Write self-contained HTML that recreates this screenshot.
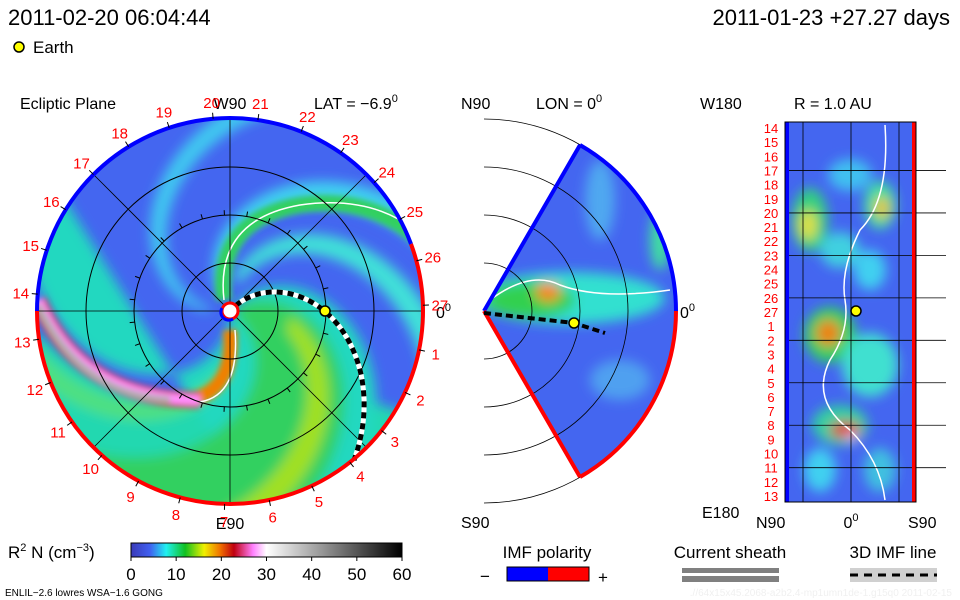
<!DOCTYPE html>
<html><head><meta charset="utf-8">
<style>
html,body{margin:0;padding:0;background:#fff;}
svg{display:block;font-family:"Liberation Sans",sans-serif;}
</style></head>
<body>
<svg id="c" width="960" height="600" viewBox="0 0 960 600">
<defs>
<filter id="b6" x="-30%" y="-30%" width="160%" height="160%"><feGaussianBlur stdDeviation="6"/></filter>
<filter id="b3" x="-30%" y="-30%" width="160%" height="160%"><feGaussianBlur stdDeviation="3"/></filter>
<clipPath id="clipL"><circle cx="230" cy="311" r="193"/></clipPath>
<clipPath id="clipM"><path d="M484 311 L580 145 A192 192 0 0 1 580 477 Z"/></clipPath>
<clipPath id="clipR"><rect x="785" y="122" width="131" height="380"/></clipPath>
<linearGradient id="cbar" x1="0" x2="1" y1="0" y2="0">
<stop offset="0" stop-color="#3a3ab8"/><stop offset="0.07" stop-color="#4060f0"/>
<stop offset="0.13" stop-color="#20f0f0"/><stop offset="0.2" stop-color="#10c020"/>
<stop offset="0.27" stop-color="#f0f000"/><stop offset="0.33" stop-color="#f07000"/>
<stop offset="0.38" stop-color="#c00010"/><stop offset="0.45" stop-color="#ff80ff"/>
<stop offset="0.5" stop-color="#ffffff"/><stop offset="1" stop-color="#000000"/>
</linearGradient>
</defs>

<text x="8" y="25" font-size="22">2011-02-20 06:04:44</text>
<text x="950" y="25" font-size="22" text-anchor="end">2011-01-23 +27.27 days</text>
<circle cx="19" cy="47" r="5" fill="#ffff00" stroke="#000" stroke-width="1.5"/>
<text x="33" y="53" font-size="17">Earth</text>

<g>
<text x="20" y="109" font-size="16">Ecliptic Plane</text>
<text x="314" y="109" font-size="16">LAT = −6.9<tspan font-size="11" dy="-7">0</tspan></text>
<g clip-path="url(#clipL)">
<rect x="30" y="110" width="400" height="400" fill="#4466f0"/>
<g id="leftField"></g>
</g>
<g id="leftGrid"></g>
<path d="M37 311 A193 193 0 0 1 411 244" fill="none" stroke="#0000ff" stroke-width="4"/>
<path d="M411 244 A193 193 0 1 1 37 311" fill="none" stroke="#ff0000" stroke-width="4"/>
<text x="230" y="529" font-size="16" text-anchor="middle">E90</text>
<text x="230" y="109" font-size="16" text-anchor="middle">W90</text>
<text x="436" y="318" font-size="16">0<tspan font-size="11" dy="-7">0</tspan></text>
<g id="dayLabels"></g>
</g>

<g>
<text x="461" y="109" font-size="16">N90</text>
<text x="536" y="109" font-size="16">LON = 0<tspan font-size="11" dy="-7">0</tspan></text>
<text x="461" y="528" font-size="16">S90</text>
<text x="680" y="318" font-size="16">0<tspan font-size="11" dy="-7">0</tspan></text>
<g clip-path="url(#clipM)">
<rect x="480" y="140" width="200" height="340" fill="#4466f0"/>
<g filter="url(#b6)">
<ellipse cx="570" cy="298" rx="95" ry="26" fill="#30e0d0"/>
<ellipse cx="530" cy="300" rx="45" ry="18" fill="#30d050"/>
<ellipse cx="548" cy="292" rx="12" ry="9" fill="#ff8000"/>
<ellipse cx="660" cy="240" rx="10" ry="30" fill="#40e0a0"/>
<ellipse cx="600" cy="200" rx="15" ry="40" fill="#50a8f0"/>
<ellipse cx="620" cy="380" rx="30" ry="20" fill="#50a0f0"/>
</g>
<path d="M490 300 Q530 270 560 285 Q600 300 670 290" fill="none" stroke="#fff" stroke-width="1.5"/>
</g>
<g id="midGrid"></g>
<path d="M484 311 L580 145" stroke="#0000ff" stroke-width="4"/>
<path d="M580 145 A192 192 0 0 1 676 311" fill="none" stroke="#0000ff" stroke-width="4"/>
<path d="M484 311 L580 477" stroke="#ff0000" stroke-width="4"/>
<path d="M676 311 A192 192 0 0 1 580 477" fill="none" stroke="#ff0000" stroke-width="4"/>
<path d="M484 313 L574 323 L605 333" fill="none" stroke="#000" stroke-width="4" stroke-dasharray="7 4"/>
<circle cx="574" cy="323" r="5" fill="#ffff00" stroke="#000" stroke-width="1.5"/>
</g>

<g>
<text x="700" y="109" font-size="16">W180</text>
<text x="794" y="109" font-size="16">R = 1.0 AU</text>
<text x="702" y="518" font-size="16">E180</text>
<text x="756" y="528" font-size="16">N90</text>
<text x="851" y="528" font-size="16" text-anchor="middle">0<tspan font-size="11" dy="-7">0</tspan></text>
<text x="908" y="528" font-size="16">S90</text>
<g clip-path="url(#clipR)">
<rect x="785" y="122" width="131" height="380" fill="#4466f0"/>
<g filter="url(#b6)">
<ellipse cx="810" cy="220" rx="18" ry="32" fill="#30d080"/>
<ellipse cx="808" cy="225" rx="9" ry="15" fill="#e0e040"/>
<ellipse cx="880" cy="205" rx="16" ry="24" fill="#40e0a0"/>
<ellipse cx="882" cy="208" rx="7" ry="11" fill="#f0c000"/>
<ellipse cx="850" cy="175" rx="22" ry="16" fill="#40c0f0"/>
<ellipse cx="840" cy="250" rx="20" ry="18" fill="#40d0e0"/>
<ellipse cx="830" cy="335" rx="26" ry="28" fill="#30d060"/>
<ellipse cx="828" cy="333" rx="12" ry="13" fill="#f08000"/>
<ellipse cx="870" cy="365" rx="28" ry="32" fill="#40e0d0"/>
<ellipse cx="840" cy="425" rx="28" ry="20" fill="#30d0a0"/>
<ellipse cx="845" cy="430" rx="15" ry="8" fill="#e02020"/>
<ellipse cx="852" cy="437" rx="6" ry="4" fill="#ffc0ff"/>
<ellipse cx="870" cy="270" rx="16" ry="20" fill="#40d0f0"/>
<ellipse cx="820" cy="470" rx="16" ry="22" fill="#40d0f0"/>
<ellipse cx="880" cy="470" rx="16" ry="22" fill="#40c0e0"/>
</g>
<path d="M885 125 Q890 200 860 230 Q840 270 845 300 Q850 330 830 360 Q810 400 850 430 Q880 460 885 500" fill="none" stroke="#fff" stroke-width="1.5"/>
</g>
<g id="rightGrid"></g>
<line x1="787" y1="122" x2="787" y2="502" stroke="#0000ff" stroke-width="4"/>
<line x1="914" y1="122" x2="914" y2="502" stroke="#ff0000" stroke-width="4"/>
<rect x="785" y="122" width="131" height="380" fill="none" stroke="#000" stroke-width="1"/>
<circle cx="856" cy="311" r="5" fill="#ffff00" stroke="#000" stroke-width="1.5"/>
<g id="rightLabels"></g>
</g>

<g>
<text x="8" y="558" font-size="17">R<tspan font-size="11" dy="-7">2</tspan><tspan dy="7"> N (cm</tspan><tspan font-size="11" dy="-7">−3</tspan><tspan dy="7">)</tspan></text>
<rect x="131" y="543" width="271" height="14" fill="url(#cbar)" stroke="#000" stroke-width="1"/>
<g id="cbarTicks"></g>
</g>
<text x="5" y="596" font-size="10">ENLIL−2.6 lowres WSA−1.6 GONG</text>

<g>
<text x="547" y="558" font-size="17" text-anchor="middle">IMF polarity</text>
<text x="480" y="582" font-size="17">−</text>
<rect x="507" y="567" width="41" height="14" fill="#0000ff"/>
<rect x="548" y="567" width="41" height="14" fill="#ff0000"/>
<rect x="507" y="567" width="82" height="14" fill="none" stroke="#000"/>
<text x="598" y="583" font-size="17">+</text>
</g>
<g>
<text x="730" y="558" font-size="17" text-anchor="middle">Current sheath</text>
<rect x="682" y="568" width="97" height="5" fill="#808080"/>
<rect x="682" y="576" width="97" height="6" fill="#808080"/>
</g>
<g>
<text x="893" y="558" font-size="17" text-anchor="middle">3D IMF line</text>
<rect x="850" y="568" width="87" height="14" fill="#d0d0d0"/>
<line x1="850" y1="575" x2="937" y2="575" stroke="#000" stroke-width="3" stroke-dasharray="8 6"/>
</g>
<text x="952" y="596" font-size="10" fill="#f0f0f0" text-anchor="end">.//64x15x45.2068-a2b2.4-mp1umn1de-1.g15q0    2011-02-15</text>
</svg>
<script>
const NS="http://www.w3.org/2000/svg";
const cbarTickValues=[0,10,20,30,40,50,60];
const dayLabelsTop=[14,15,16,17,18,19,20,21,22,23,24,25,26,27];
const dayLabelsBottom=[1,2,3,4,5,6,7,8,9,10,11,12,13];
const rightLatLabels=[14,15,16,17,18,19,20,21,22,23,24,25,26,27,1,2,3,4,5,6,7,8,9,10,11,12,13];
const ringRadiiAU=[0.25,0.5,0.75,1.0];

function mk(tag,attrs,parent){const e=document.createElementNS(NS,tag);for(const k in attrs)e.setAttribute(k,attrs[k]);parent.appendChild(e);return e;}
const CX=230,CY=311,R=193;
const rScale=au=>au/1.0*192;
function spiralPt(r,phi0,k){const p=phi0-r*k;return [CX+r*Math.cos(p),CY-r*Math.sin(p)];}
function band(a,b,k,r0,r1){let pts=[];for(let r=r0;r<=r1;r+=4)pts.push(spiralPt(r,a,k));for(let r=r1;r>=r0;r-=4)pts.push(spiralPt(r,b,k));return "M"+pts.map(p=>p[0].toFixed(1)+" "+p[1].toFixed(1)).join(" L")+"Z";}
const lf=document.getElementById('leftField');
const d2r=Math.PI/180,K=0.0088;
const gb=mk('g',{filter:'url(#b6)'},lf);
mk('path',{d:"M37 330 Q120 420 230 400 Q260 390 300 380 L430 420 L430 520 L30 520 Z",fill:'#20d8b0'},gb);
mk('path',{d:band(-90*d2r,55*d2r,K,5,260),fill:'#20d8c0'},gb);
mk('path',{d:band(-35*d2r,35*d2r,K,5,260),fill:'#30d060'},gb);
mk('path',{d:band(10*d2r,25*d2r,K,60,260),fill:'#a0e020'},gb);
mk('path',{d:band(-70*d2r,-58*d2r,K,60,260),fill:'#50e080'},gb);
mk('path',{d:band(120*d2r,135*d2r,K,20,260),fill:'#40d0f0'},gb);
mk('path',{d:band(180*d2r,192*d2r,K,20,260),fill:'#40c8f0'},gb);
mk('path',{d:band(85*d2r,100*d2r,K,30,260),fill:'#40e0d8'},gb);
const g2=mk('g',{filter:'url(#b3)'},lf);
mk('path',{d:"M224 300 Q215 220 300 205 Q370 195 420 240",fill:'none',stroke:'#30d060','stroke-width':16},g2);
mk('path',{d:"M230 330 Q235 390 190 400",fill:'none',stroke:'#f08000','stroke-width':14},g2);
mk('path',{d:"M38 300 Q80 400 200 400",fill:'none',stroke:'#e02000','stroke-width':16},g2);
mk('path',{d:"M38 300 Q80 400 200 400",fill:'none',stroke:'#ff90ff','stroke-width':10},g2);
mk('path',{d:"M38 305 Q80 395 170 400",fill:'none',stroke:'#b0b0b0','stroke-width':7},g2);
mk('path',{d:"M224 300 Q215 220 300 205 Q370 195 415 230",fill:'none',stroke:'#fff','stroke-width':1.5},lf);
mk('path',{d:"M235 330 Q240 395 200 402",fill:'none',stroke:'#fff','stroke-width':1.5},lf);

const lg=document.getElementById('leftGrid');
ringRadiiAU.slice(0,3).forEach(au=>{const c=mk('circle',{cx:CX,cy:CY,r:rScale(au),fill:'none',stroke:'#000','stroke-width':1},lg);});
for(let a=0;a<180;a+=45){const t=a*d2r;mk('line',{x1:CX-R*Math.cos(t),y1:CY-R*Math.sin(t),x2:CX+R*Math.cos(t),y2:CY+R*Math.sin(t),stroke:'#000','stroke-width':0.8},lg);}
for(let a=0;a<360;a+=13.33){const t=a*d2r,r=rScale(0.5);mk('line',{x1:CX+r*Math.cos(t),y1:CY-r*Math.sin(t),x2:CX+(r+5)*Math.cos(t),y2:CY-(r+5)*Math.sin(t),stroke:'#000'},lg);}
let pts=[];for(let r=8;r<=195;r+=3)pts.push(spiralPt(r,0.83,K));
const ptsStr=pts.map(p=>p[0].toFixed(1)+","+p[1].toFixed(1)).join(" ");
mk('polyline',{points:ptsStr,fill:'none',stroke:'#fff','stroke-width':5},lg);
const imf=mk('polyline',{points:ptsStr,fill:'none',stroke:'#000','stroke-width':5,'stroke-dasharray':'6 5'},lg);

const sunB=mk('circle',{cx:CX,cy:CY,r:8,fill:'#fff',stroke:'#ff0000','stroke-width':3},lg);

mk('path',{d:`M${CX-8} ${CY-3} A8 8 0 0 0 ${CX+3} ${CY+8}`,fill:'none',stroke:'#0000ff','stroke-width':3},lg);
const em=mk('circle',{cx:CX+95,cy:CY,r:5,fill:'#ffff00',stroke:'#000','stroke-width':1.5},lg);


const dl=document.getElementById('dayLabels');
const allDays=dayLabelsTop.concat(dayLabelsBottom);
allDays.forEach((d,i)=>{const ang=(175-13.33*i)*d2r,rr=210;
 const x=CX+rr*Math.cos(ang),y=CY-rr*Math.sin(ang)+6;
 const t=mk('text',{x:x.toFixed(1),y:y.toFixed(1),'font-size':15,fill:'#ff0000','text-anchor':'middle'},dl);t.textContent=d;
 
 mk('line',{x1:CX+R*Math.cos(ang),y1:CY-R*Math.sin(ang),x2:CX+(R+6)*Math.cos(ang),y2:CY-(R+6)*Math.sin(ang),stroke:'#000'},dl);});

const mg=document.getElementById('midGrid');const MX=484;
[48,96,144,192].forEach(r=>mk('path',{d:`M${MX} ${CY-r} A${r} ${r} 0 0 1 ${MX} ${CY+r}`,fill:'none',stroke:'#000','stroke-width':0.8},mg));

const rg=document.getElementById('rightGrid');
const RY0=122,RY1=502,RX0=785,RX1=916;
const yR=i=>RY0+6+i*(RY1-RY0-12)/(rightLatLabels.length-1);
[3,6,9,12,15,18,21,24].forEach(i=>mk('line',{x1:RX0,x2:RX1+30,y1:yR(i),y2:yR(i),stroke:'#000','stroke-width':0.8},rg));
[803,851,899].forEach(x=>mk('line',{x1:x,x2:x,y1:RY0,y2:RY1,stroke:'#000','stroke-width':0.8},rg));
const rl=document.getElementById('rightLabels');
rightLatLabels.forEach((d,i)=>{const t=mk('text',{x:771,y:(yR(i)+5).toFixed(1),'font-size':13,fill:'#ff0000','text-anchor':'middle'},rl);t.textContent=d;
 });

const ct=document.getElementById('cbarTicks');
const cb=v=>131+v/60*271;
cbarTickValues.forEach(v=>{mk('line',{x1:cb(v),x2:cb(v),y1:557,y2:561,stroke:'#000'},ct);
 const t=mk('text',{x:cb(v),y:580,'font-size':17,'text-anchor':'middle'},ct);t.textContent=v;
 });
</script>
</body></html>
